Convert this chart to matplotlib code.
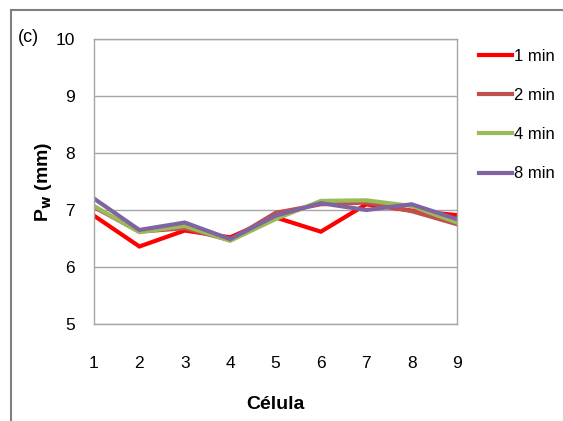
import matplotlib.pyplot as plt
import matplotlib.lines as mlines

plt.rcParams['font.family'] = ['Liberation Sans', 'DejaVu Sans']

# Values
cells = [1, 2, 3, 4, 5, 6, 7, 8, 9]
p_1min = [6.90, 6.36, 6.64, 6.52, 6.87, 6.62, 7.10, 6.99, 6.91]
p_2min = [7.05, 6.62, 6.68, 6.47, 6.95, 7.10, 7.13, 6.98, 6.75]
p_4min = [7.07, 6.61, 6.72, 6.46, 6.84, 7.16, 7.17, 7.07, 6.78]
p_8min = [7.20, 6.65, 6.78, 6.49, 6.90, 7.12, 7.00, 7.10, 6.84]
labels = ['1 min', '2 min', '4 min', '8 min']
colors = ['#FF0000', '#C0504D', '#9BBB59', '#8064A2']

W, H = 563, 421
fig = plt.figure(figsize=(W / 100, H / 100), dpi=100)
ax = fig.add_axes([94 / W, 1 - 324 / H, (457 - 94) / W, (324 - 39) / H])

series = [p_1min, p_2min, p_4min, p_8min]
for vals, c in zip(series, colors):
    ax.plot(cells, vals, color=c, linewidth=3, solid_joinstyle='miter')

ax.set_xlim(1, 9)
ax.set_ylim(5, 10)
ax.set_xticks(cells)
ax.set_yticks([5, 6, 7, 8, 9, 10])
ax.tick_params(length=0, labelsize=12.5, colors='black')
ax.tick_params(axis='x', pad=23)
ax.tick_params(axis='y', pad=14)
ax.grid(axis='y', color='#A6A6A6', linewidth=1)
for s in ax.spines.values():
    s.set_color('#A6A6A6')
    s.set_linewidth(1)

ax.set_xlabel('Célula', fontsize=14, fontweight='bold', labelpad=18)
ax.set_ylabel(r'P$_{\mathbf{w}}$ (mm)', fontsize=14, fontweight='bold', labelpad=1)

# legend entries placed on the right
handles = [mlines.Line2D([], [], color=c, linewidth=3, label=l) for c, l in zip(colors, labels)]
fig.legend(handles=handles, loc='upper left', bbox_to_anchor=(464 / W, 1 - 34 / H),
           frameon=False, fontsize=12, handlelength=2.0, handletextpad=0.1,
           labelspacing=1.45)

fig.text(18 / W, 1 - 37 / H, '(c)', fontsize=13, va='center', ha='left')

# outer chart border (top and left visible only)
fig.add_artist(mlines.Line2D([11 / W, 1], [1 - 10 / H, 1 - 10 / H], color='#808080', linewidth=1.5))
fig.add_artist(mlines.Line2D([11 / W, 11 / W], [0, 1 - 10 / H], color='#808080', linewidth=1.5))

fig.savefig('out.png', dpi=100)
